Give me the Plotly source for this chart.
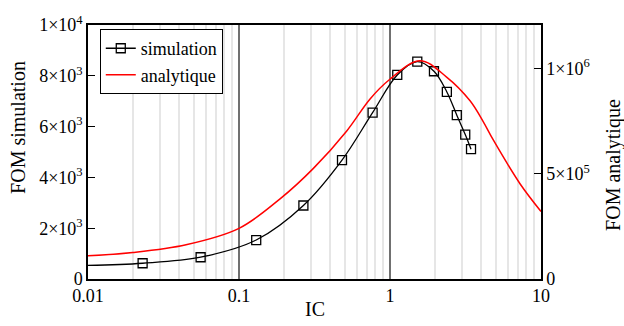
import plotly.graph_objects as go

# ---- data ----
sim_ic = [0.023, 0.0557, 0.130, 0.267, 0.481, 0.767, 1.117, 1.516, 1.955, 2.38, 2.77, 3.15, 3.44]
sim_fom = [620, 857, 1534, 2894, 4680, 6551, 8034, 8557, 8179, 7365, 6449, 5686, 5112]
# fitted simulation curve (starts at IC=0.01)
fit_ic = [0.01] + sim_ic
fit_fom = [535] + sim_fom

ana_ic = [0.01, 0.0198, 0.0446, 0.1, 0.187, 0.311, 0.517, 0.738, 0.985, 1.58,
          2.37, 3.39, 4.15, 4.83, 7.26, 10]
ana_fom = [110000, 126000, 163000, 241000, 381000, 526000, 704000, 856000, 946000, 1038000,
           960000, 847000, 747000, 661000, 453000, 321000]

x_ticks = [0.01, 0.1, 1, 10]
x_ticktext = ["0.01", "0.1", "1", "10"]
x_minor = [m * 10.0 ** e for e in (-2, -1, 0) for m in range(2, 10)]
y_ticks = [0, 2000, 4000, 6000, 8000, 10000]
y_ticktext = ["0", "2×10<sup>3</sup>", "4×10<sup>3</sup>", "6×10<sup>3</sup>", "8×10<sup>3</sup>", "1×10<sup>4</sup>"]
y2_ticks = [0, 500000, 1000000]
y2_ticktext = ["0", "5×10<sup>5</sup>", "1×10<sup>6</sup>"]

FONT = "Liberation Serif"

fig = go.Figure()
fig.add_trace(go.Scatter(x=fit_ic, y=fit_fom, mode="lines", line=dict(color="black", width=1.3, shape="spline"),
                         showlegend=False, hoverinfo="skip"))
fig.add_trace(go.Scatter(x=sim_ic, y=sim_fom, mode="markers",
                         marker=dict(symbol="square-open", size=9, color="black", line=dict(width=1.3)),
                         showlegend=False))
fig.add_trace(go.Scatter(x=[None], y=[None], mode="lines+markers", name="simulation",
                         line=dict(color="black", width=1.3),
                         marker=dict(symbol="square-open", size=9, color="black", line=dict(width=1.3))))
fig.add_trace(go.Scatter(x=ana_ic, y=ana_fom, mode="lines", name="analytique", yaxis="y2",
                         line=dict(color="#ff0000", width=1.5, shape="spline", smoothing=1)))

fig.update_layout(
    width=624, height=326,
    margin=dict(l=88, r=83, t=25, b=47),
    paper_bgcolor="white", plot_bgcolor="white",
    font=dict(family=FONT, size=18, color="black"),
    showlegend=True,
    legend=dict(x=0.026, y=0.984, xanchor="left", yanchor="top", bgcolor="white",
                bordercolor="black", borderwidth=1, font=dict(size=18, family=FONT),
                tracegroupgap=0, itemwidth=30),
    xaxis=dict(type="log", range=[-2, 1], tickvals=x_ticks, ticktext=x_ticktext,
               showline=True, linecolor="black", linewidth=1.5, mirror=True,
               ticks="", showgrid=True, gridcolor="#707070", gridwidth=1.5, zeroline=False,
               minor=dict(tickvals=x_minor, showgrid=True, gridcolor="#e6e6e6", gridwidth=1.5, ticks=""),
               tickfont=dict(size=18)),
    yaxis=dict(range=[0, 10000], tickvals=y_ticks, ticktext=y_ticktext, showline=True,
               linecolor="black", linewidth=1.5, ticks="inside", ticklen=7, tickcolor="black",
               showgrid=False, zeroline=False, tickfont=dict(size=18)),
    yaxis2=dict(range=[0, 1207500], tickvals=y2_ticks, ticktext=y2_ticktext, overlaying="y", side="right",
                showline=True, linecolor="black", linewidth=1.5, ticks="inside", ticklen=7, tickcolor="black",
                showgrid=False, zeroline=False, tickfont=dict(size=18)),
    annotations=[
        dict(text="IC", xref="paper", yref="paper", x=0.5, y=-0.118, yanchor="middle", showarrow=False,
             font=dict(size=20)),
        dict(text="FOM simulation", xref="paper", yref="paper", x=-0.1545, y=0.595, textangle=-90,
             xanchor="center", yanchor="middle", showarrow=False, font=dict(size=20)),
        dict(text="FOM analytique", xref="paper", yref="paper", x=1.161, y=0.449, textangle=-90,
             xanchor="center", yanchor="middle", showarrow=False, font=dict(size=20)),
    ],
)

fig.write_html("out.html")
